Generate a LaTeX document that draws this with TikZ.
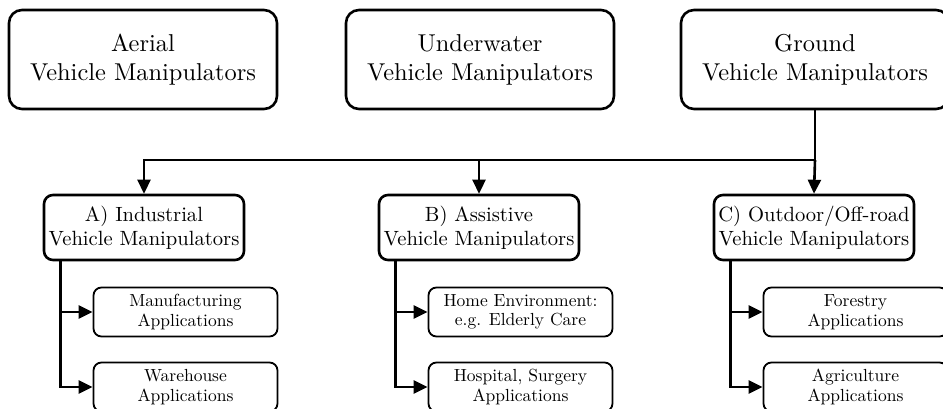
\documentclass[tikz,border=0pt]{standalone}
\usepackage{fontspec}
\usetikzlibrary{arrows.meta}
% the 10pt design of Latin Modern at every size
\newfontfamily\lmten{lmroman10-regular.otf}
\begin{document}
\begin{tikzpicture}[x=1pt,y=-1pt,
  topbox/.style={draw,line width=2.6pt,rounded corners=13pt,minimum width=268pt,minimum height=99pt,
    align=center,inner sep=0pt,font=\lmten\fontsize{24.4}{29}\selectfont},
  midbox/.style={draw,line width=2.6pt,rounded corners=9pt,minimum width=200pt,minimum height=65pt,
    align=center,inner sep=0pt,font=\lmten\fontsize{20.6}{24}\selectfont},
  leafbox/.style={draw,line width=1.8pt,rounded corners=8pt,minimum width=184pt,minimum height=49pt,
    align=center,inner sep=0pt,font=\lmten\fontsize{17.5}{19.5}\selectfont},
  link/.style={line width=2.6pt},
  arr/.style={link,-{Triangle[length=14pt,width=13pt]}}]
\useasboundingbox (0,0) rectangle (943,408);
\clip (0,0) rectangle (943,408);

% first row: vehicle manipulator families
\node[topbox] (aerial) at (143,59.5) {Aerial\\Vehicle Manipulators};
\node[topbox] (under) at (480,59.5) {Underwater\\Vehicle Manipulators};
\node[topbox] (ground) at (815,59.5) {Ground\\Vehicle Manipulators};

% second row: ground vehicle manipulator classes
\node[midbox] (ind) at (144,227.5) {A) Industrial\\Vehicle Manipulators};
\node[midbox] (ass) at (479,227.5) {B) Assistive\\Vehicle Manipulators};
\node[midbox] (out) at (814,227.5) {C) Outdoor/Off-road\\Vehicle Manipulators};

% third row: applications
\node[leafbox] (manu) at (185.5,312) {Manufacturing\\Applications};
\node[leafbox] (ware) at (185.5,387) {Warehouse\\Applications};
\node[leafbox] (home) at (520.5,312) {Home Environment:\\e.g. Elderly Care};
\node[leafbox] (hosp) at (520.5,387) {Hospital, Surgery\\Applications};
\node[leafbox] (fore) at (855.5,312) {Forestry\\Applications};
\node[leafbox] (agri) at (855.5,387) {Agriculture\\Applications};

% distribution bus below the ground node
\coordinate (bus) at (815,160);
\draw[link] (ground.south) -- (bus);
\draw[arr] (bus) -- (out.north);
\draw[arr] (bus) -| (ass.north);
\draw[arr] (bus) -| (ind.north);

% branches from each class to its applications
\foreach \p/\a/\b in {ind/manu/ware, ass/home/hosp, out/fore/agri}{
  \coordinate (\p-stem) at ([xshift=18pt]\p.south west);
  \draw[arr] (\p-stem) |- (\a.west);
  \draw[arr] (\p-stem) |- (\b.west);
}
\end{tikzpicture}
\end{document}
